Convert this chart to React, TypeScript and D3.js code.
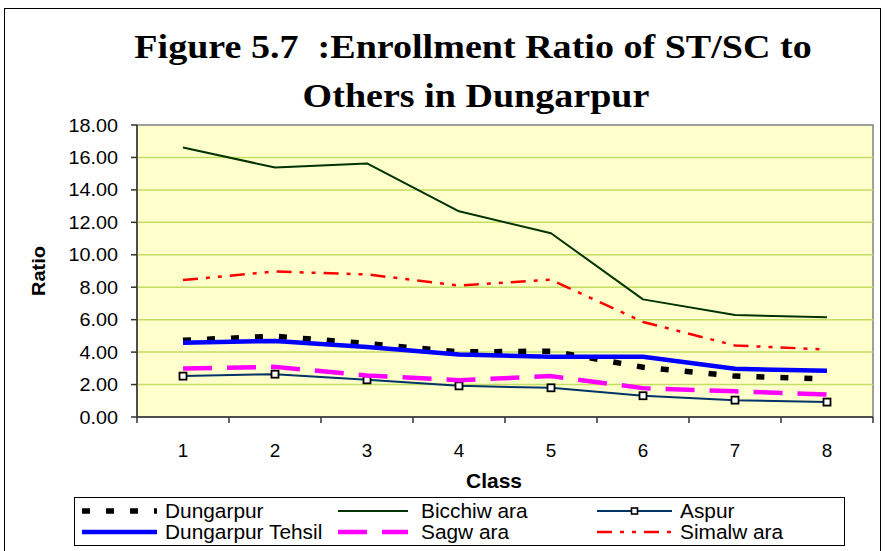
import * as d3 from "d3";

const classes = ["1", "2", "3", "4", "5", "6", "7", "8"];
const yTicks = [0, 2, 4, 6, 8, 10, 12, 14, 16, 18];

const dungarpur = [4.73, 4.98, 4.53, 4.01, 4.06, 3.07, 2.52, 2.34];
const bicchiwara = [16.61, 15.38, 15.63, 12.68, 11.33, 7.25, 6.29, 6.15];
const aspur = [2.52, 2.64, 2.29, 1.92, 1.8, 1.31, 1.04, 0.92];
const dungarpurTehsil = [4.57, 4.69, 4.32, 3.85, 3.71, 3.71, 2.97, 2.85];
const sagwara = [2.99, 3.09, 2.56, 2.27, 2.52, 1.78, 1.58, 1.39];
const simalwara = [8.44, 8.97, 8.79, 8.1, 8.46, 5.86, 4.41, 4.16];

type Series = {
  name: string;
  values: number[];
  color: string;
  width: number;
  dash?: string;
  marker?: boolean;
};

// draw order: back to front
const series: Series[] = [
  { name: "Bicchiw ara", values: bicchiwara, color: "#003300", width: 2 },
  { name: "Simalw ara", values: simalwara, color: "#ff0000", width: 2.5, dash: "15 8 4 8 4 8" },
  { name: "Aspur", values: aspur, color: "#003366", width: 2, marker: true },
  { name: "Sagw ara", values: sagwara, color: "#ff00ff", width: 4.5, dash: "29 15" },
  { name: "Dungarpur", values: dungarpur, color: "#000000", width: 5.5, dash: "8 16" },
  { name: "Dungarpur Tehsil", values: dungarpurTehsil, color: "#0000ff", width: 4.5 },
];

// legend layout: [column, row]
const legendOrder = [
  ["Dungarpur", 0, 0],
  ["Bicchiw ara", 1, 0],
  ["Aspur", 2, 0],
  ["Dungarpur Tehsil", 0, 1],
  ["Sagw ara", 1, 1],
  ["Simalw ara", 2, 1],
] as const;

const W = 887;
const H = 551;
const plot = { left: 137, right: 873, top: 125, bottom: 417 };
const SANS = "'Liberation Sans', Arial, sans-serif";
const SERIF = "'Liberation Serif', 'Times New Roman', serif";

function T({
  x,
  y,
  sx = 1,
  size,
  anchor = "start",
  bold = false,
  family = SANS,
  rotate = 0,
  children,
}: {
  x: number;
  y: number;
  sx?: number;
  size: number;
  anchor?: string;
  bold?: boolean;
  family?: string;
  rotate?: number;
  children: string;
}) {
  return (
    <text
      transform={`translate(${x},${y}) rotate(${rotate}) scale(${sx},1)`}
      fontSize={size}
      fontFamily={family}
      fontWeight={bold ? "bold" : "normal"}
      textAnchor={anchor}
      style={{ whiteSpace: "pre" }}
      fill="#000"
    >
      {children}
    </text>
  );
}

export default function App() {
  const x = d3.scaleBand().domain(classes).range([plot.left, plot.right]);
  const cx = (c: string) => x(c)! + x.bandwidth() / 2;
  const y = d3.scaleLinear().domain([0, 18]).range([plot.bottom, plot.top]);

  const line = d3
    .line<number>()
    .x((_, i) => cx(classes[i]))
    .y((d) => y(d));

  const bounds = [...classes.map((c) => x(c)!), plot.right];
  const legendCols = [
    { x1: 82, x2: 157, tx: 165 },
    { x1: 338, x2: 408, tx: 421 },
    { x1: 597, x2: 672, tx: 680 },
  ];
  const legendRows = [511, 532];

  return (
    <svg
      width={W}
      height={H}
      style={{ position: "fixed", left: 0, top: 0, background: "#fff" }}
    >
      {/* outer chart frame */}
      <rect x={4.5} y={8.5} width={876} height={560} fill="none" stroke="#000" strokeWidth={1} />

      {/* title */}
      <T x={473} y={58} size={34} sx={1.12} anchor="middle" bold family={SERIF}>
        {"Figure 5.7  :Enrollment Ratio of ST/SC to"}
      </T>
      <T x={476} y={107} size={34} sx={1.12} anchor="middle" bold family={SERIF}>
        Others in Dungarpur
      </T>

      {/* plot area */}
      <rect
        x={plot.left}
        y={plot.top}
        width={plot.right - plot.left}
        height={plot.bottom - plot.top}
        fill="#ffffcc"
        stroke="#808080"
        strokeWidth={1.5}
      />
      {yTicks.slice(1, -1).map((t) => (
        <line
          key={t}
          x1={plot.left}
          x2={plot.right}
          y1={y(t)}
          y2={y(t)}
          stroke="#c2df63"
          strokeWidth={1.5}
        />
      ))}

      {/* y axis */}
      <line x1={plot.left} x2={plot.left} y1={plot.top} y2={plot.bottom} stroke="#333" strokeWidth={1.5} />
      {yTicks.map((t) => (
        <g key={t}>
          <line x1={plot.left - 6} x2={plot.left} y1={y(t)} y2={y(t)} stroke="#333" strokeWidth={1.5} />
          <T x={118} y={y(t) + 6.5} size={18} sx={1.1} anchor="end">
            {d3.format(".2f")(t)}
          </T>
        </g>
      ))}
      <T x={45} y={271} size={19} sx={1.05} anchor="middle" bold rotate={-90}>
        Ratio
      </T>

      {/* x axis */}
      <line x1={plot.left} x2={plot.right} y1={plot.bottom} y2={plot.bottom} stroke="#333" strokeWidth={1.5} />
      {bounds.map((b, i) => (
        <line key={i} x1={b} x2={b} y1={plot.bottom} y2={plot.bottom + 6} stroke="#333" strokeWidth={1.5} />
      ))}
      {classes.map((c) => (
        <T key={c} x={cx(c)} y={457} size={18} sx={1.05} anchor="middle">
          {c}
        </T>
      ))}
      <T x={494} y={488} size={20} sx={1.05} anchor="middle" bold>
        Class
      </T>

      {/* series */}
      {series.map((s) => (
        <g key={s.name}>
          <path
            d={line(s.values)!}
            fill="none"
            stroke={s.color}
            strokeWidth={s.width}
            strokeDasharray={s.dash}
            strokeLinejoin="round"
          />
          {s.marker &&
            s.values.map((v, i) => (
              <rect
                key={i}
                x={cx(classes[i]) - 3.5}
                y={y(v) - 3.5}
                width={7}
                height={7}
                fill="#fff"
                stroke="#000"
                strokeWidth={1.8}
              />
            ))}
        </g>
      ))}

      {/* legend */}
      <rect x={74.5} y={497.5} width={770} height={48} fill="#fff" stroke="#000" strokeWidth={1} />
      {legendOrder.map(([name, col, row]) => {
        const s = series.find((d) => d.name === name)!;
        const c = legendCols[col];
        const ly = legendRows[row];
        const mid = (c.x1 + c.x2) / 2;
        return (
          <g key={name}>
            <line
              x1={c.x1}
              x2={c.x2}
              y1={ly}
              y2={ly}
              stroke={s.color}
              strokeWidth={s.width}
              strokeDasharray={s.dash}
            />
            {s.marker && (
              <rect x={mid - 3} y={ly - 3} width={6} height={6} fill="#fff" stroke="#000" strokeWidth={1.6} />
            )}
            <T x={c.tx} y={ly + 7} size={19.5} sx={1.07}>
              {name}
            </T>
          </g>
        );
      })}
    </svg>
  );
}
